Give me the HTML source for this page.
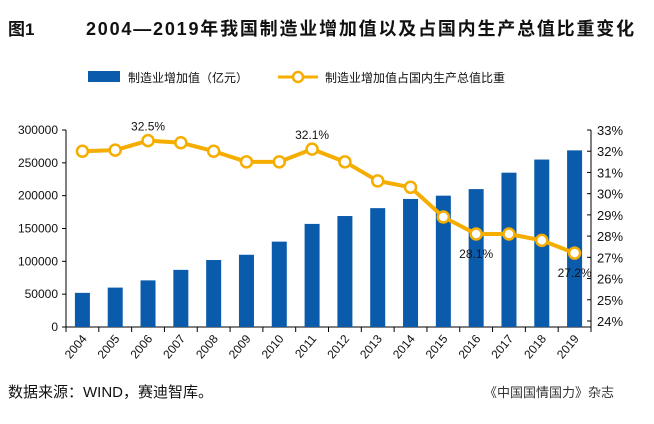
<!DOCTYPE html>
<html><head><meta charset="utf-8"><style>
body{margin:0;background:#fff;width:654px;height:419px;overflow:hidden;font-family:"Liberation Sans","Noto Sans CJK SC",sans-serif}
svg text{font-family:"Liberation Sans","Noto Sans CJK SC",sans-serif}
</style></head><body>
<svg id="c" width="654" height="419">
<text x="8" y="35" font-size="17" font-weight="bold" fill="#111">图1</text>
<text x="86" y="35" font-size="18" font-weight="bold" letter-spacing="1.8" fill="#111">2004—2019年我国制造业增加值以及占国内生产总值比重变化</text>
<g>
<rect x="88" y="71" width="32" height="11" fill="#0a5bac"/>
<text x="128" y="82" font-size="12" fill="#111">制造业增加值（亿元）</text>
<line x1="278" y1="77" x2="318" y2="77" stroke="#f5ad00" stroke-width="3"/>
<circle cx="298" cy="77" r="5" fill="#fff" stroke="#f5ad00" stroke-width="2.5"/>
<text x="325" y="82" font-size="12" fill="#111">制造业增加值占国内生产总值比重</text>
</g>
<g id="g"></g>
<text x="8" y="397" font-size="15" fill="#111">数据来源：WIND，赛迪智库。</text>
<text x="484" y="397" font-size="13" fill="#333">《中国国情国力》杂志</text>
</svg>
<script>
const years=["2004","2005","2006","2007","2008","2009","2010","2011","2012","2013","2014","2015","2016","2017","2018","2019"];
const valueAdded=[52000,60000,71000,87000,102000,110000,130000,157000,169000,181000,195000,200000,210000,235000,255000,269000];
const shareGDP=[32.0,32.05,32.5,32.4,32.0,31.5,31.5,32.1,31.5,30.6,30.3,28.9,28.1,28.1,27.8,27.2];
const leftTicks=[0,50000,100000,150000,200000,250000,300000];
const rightTicks=[24,25,26,27,28,29,30,31,32,33];
const labelIdx=[2,7,12,15];
const labelText=["32.5%","32.1%","28.1%","27.2%"];
const ns="http://www.w3.org/2000/svg",g=document.getElementById('g');
const X0=66,X1=591,Y0=327,Y1=130,YR0=321;
const step=(X1-X0)/years.length;
const xc=i=>X0+step*(i+0.5);
const yL=v=>Y0-(v/300000)*(Y0-Y1);
const yR=v=>YR0-((v-24)/9)*(YR0-Y1);
function el(t,a,txt){const e=document.createElementNS(ns,t);for(const k in a)e.setAttribute(k,a[k]);if(txt!==undefined)e.textContent=txt;g.appendChild(e);return e;}
let e;
e=el('line',{x1:X0,y1:Y1,x2:X0,y2:Y0,stroke:'#000'});


e=el('line',{x1:X1,y1:Y1,x2:X1,y2:Y0,stroke:'#000'});


e=el('line',{x1:X0,y1:Y0,x2:X1,y2:Y0,stroke:'#000'});


leftTicks.forEach(v=>{
 el('line',{x1:X0-4,y1:yL(v),x2:X0,y2:yL(v),stroke:'#000'});
 e=el('text',{x:X0-8,y:yL(v)+4,'font-size':12,'text-anchor':'end',fill:'#111'},String(v));
 
 
});
rightTicks.forEach(v=>{
 el('line',{x1:X1-4,y1:yR(v),x2:X1,y2:yR(v),stroke:'#000'});
 e=el('text',{x:X1+6,y:yR(v)+5,'font-size':13,fill:'#111'},v+'%');
 
 
});
for(let i=0;i<=years.length;i++) el('line',{x1:X0+step*i,y1:Y0,x2:X0+step*i,y2:Y0+5,stroke:'#000'});
years.forEach((y,i)=>{
 e=el('rect',{x:xc(i)-7.5,y:yL(valueAdded[i]),width:15,height:Y0-yL(valueAdded[i]),fill:'#0a5bac'});
 
 
 const tx=xc(i)+5,ty=Y0+12;
 e=el('text',{x:tx,y:ty,'font-size':12,'text-anchor':'end',fill:'#111',transform:`rotate(-50 ${tx} ${ty})`},y);
 
 
});
e=el('polyline',{points:shareGDP.map((v,i)=>xc(i)+','+yR(v)).join(' '),fill:'none',stroke:'#f5ad00','stroke-width':4,'stroke-linejoin':'round'});


shareGDP.forEach((v,i)=>{
 e=el('circle',{cx:xc(i),cy:yR(v),r:5.5,fill:'#fff',stroke:'#f5ad00','stroke-width':2.5});
 
 
});
labelIdx.forEach((idx,k)=>{
 const above=shareGDP[idx]>30;
 e=el('text',{x:xc(idx),y:above?yR(shareGDP[idx])-10:yR(shareGDP[idx])+24,'font-size':12,'text-anchor':'middle',fill:'#111'},labelText[k]);
 
 
});
</script>
</body></html>
